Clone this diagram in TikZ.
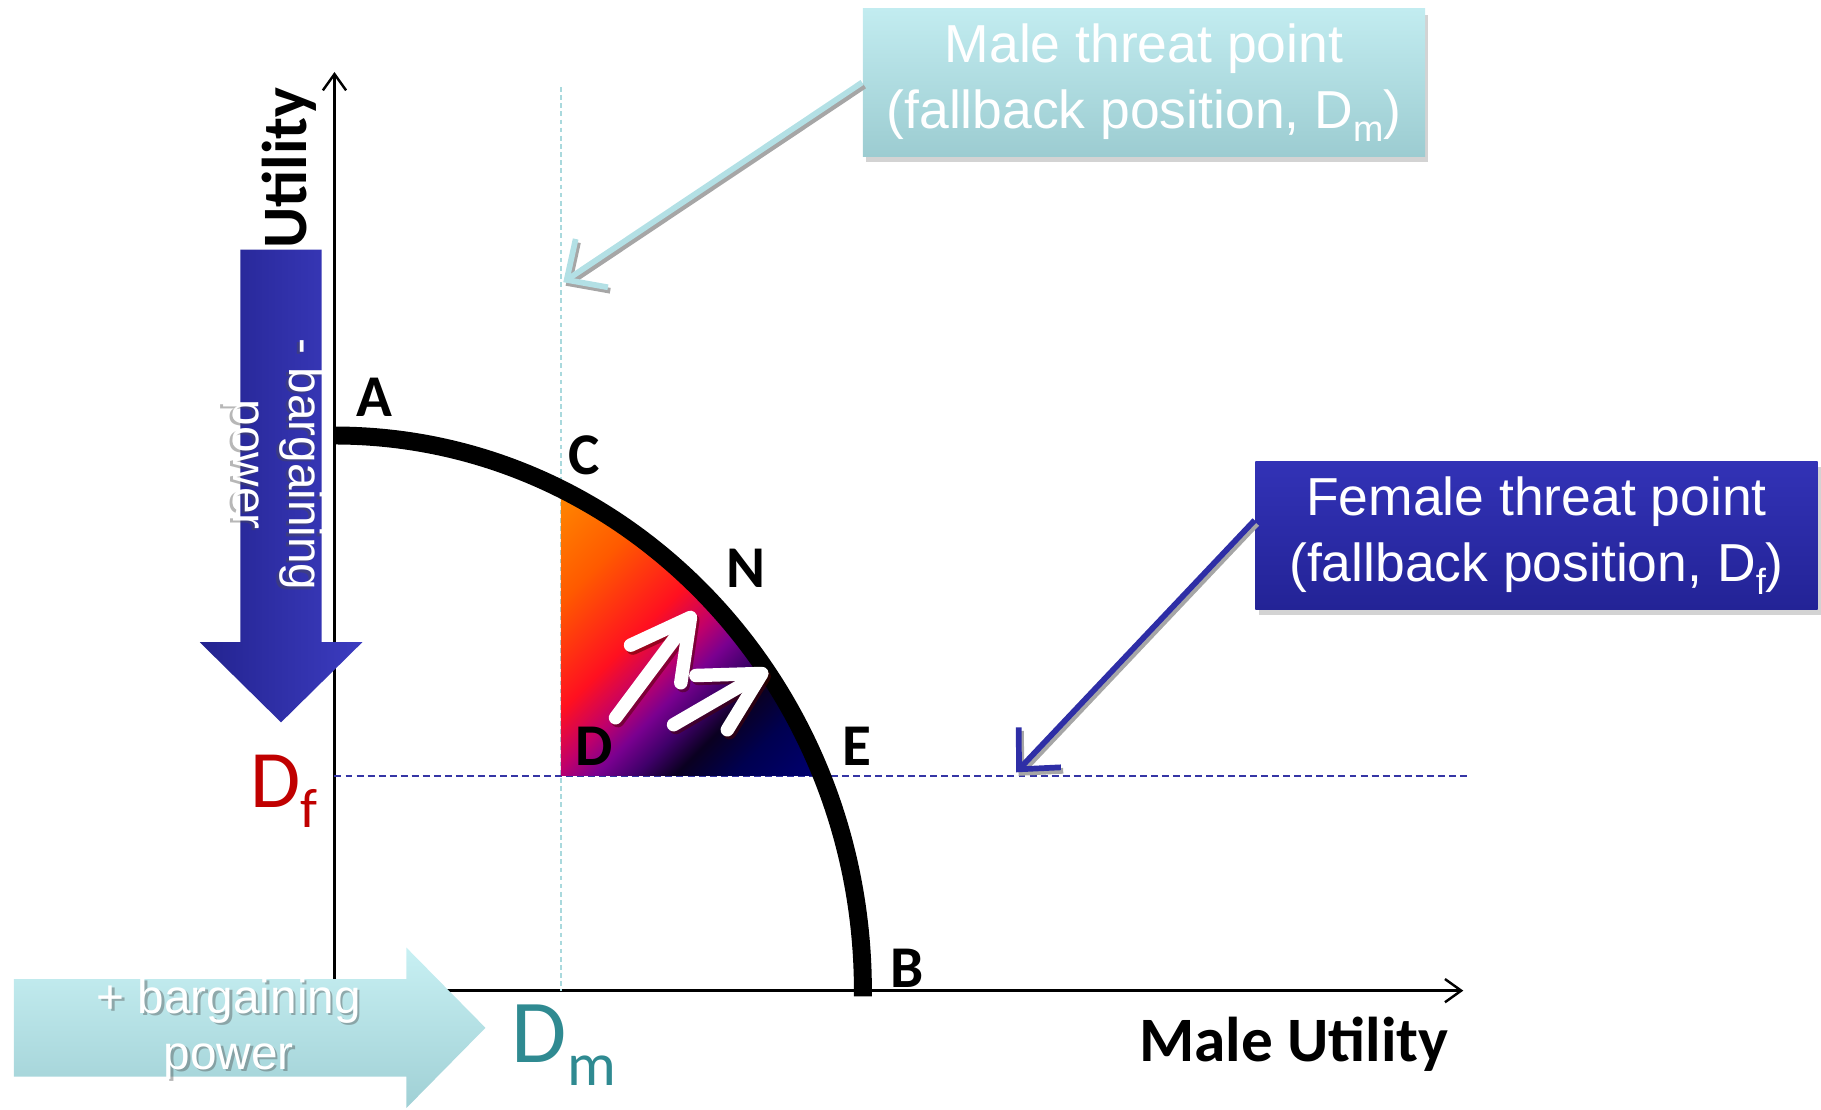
\documentclass[tikz,border=0pt]{standalone}
\usepackage{fontspec}
\usepackage{graphicx}
\usepackage{tikz}
\usetikzlibrary{arrows.meta,positioning,shadows}
\setmainfont{Liberation Sans}
\newfontfamily\calfont{Carlito}
\definecolor{threatcyan}{HTML}{B3E0E5}
\definecolor{cyantop}{HTML}{C2ECF0}
\definecolor{cyanbot}{HTML}{9CCCD1}
\definecolor{threatblue}{HTML}{2E2EA6}
\definecolor{bluetop}{HTML}{3232B6}
\definecolor{bluebot}{HTML}{232396}
\definecolor{dnleft}{HTML}{23238F}
\definecolor{dnright}{HTML}{3C3CC0}
\definecolor{rttop}{HTML}{C8F0F3}
\definecolor{rtbot}{HTML}{A0D0D5}
\definecolor{dfred}{HTML}{C00000}
\definecolor{dmteal}{HTML}{2F8A91}
\definecolor{guideblue}{HTML}{3535A5}
\definecolor{guidecyan}{HTML}{A9D9DD}
\definecolor{gorange}{HTML}{FF8A00}
\definecolor{gorangetwo}{HTML}{FF5A00}
\definecolor{gred}{HTML}{FF1020}
\definecolor{gmagenta}{HTML}{C0006A}
\definecolor{gpurple}{HTML}{7A0090}
\definecolor{gviolet}{HTML}{40006A}
\definecolor{gdark}{HTML}{0A0020}
\definecolor{gnavy}{HTML}{000050}
\definecolor{gnavytwo}{HTML}{000078}
\pgfdeclarehorizontalshading{gainshade}{100bp}{color(0bp)=(gorange); color(26bp)=(gorange); color(36bp)=(gorangetwo); color(45.5bp)=(gred); color(50.5bp)=(gmagenta); color(54bp)=(gpurple); color(57.5bp)=(gviolet); color(61bp)=(gdark); color(66bp)=(gnavy); color(75bp)=(gnavytwo); color(100bp)=(gnavytwo)}
\newcommand{\psub}[1]{\raisebox{-0.25em}{\scalebox{0.68}{#1}}}
\tikzset{
  utilaxis/.style={line width=0.6pt,-{Straight Barb[length=1.4mm,width=2mm]}},
  guidem/.style={guidecyan,line width=0.5pt,dash pattern=on 0.4mm off 0.3mm},
  guidef/.style={guideblue,line width=0.45pt,dash pattern=on 0.6mm off 0.35mm},
  frontier/.style={line width=4.4pt},
  ptlabel/.style={font=\calfont\bfseries\fontsize{14.5}{14.5}\selectfont,inner sep=0pt,anchor=base west},
  axislabel/.style={font=\calfont\bfseries\fontsize{15.5}{15.5}\selectfont,inner sep=0pt},
  dflabel/.style={font=\calfont\fontsize{20}{20}\selectfont,text=dfred,inner sep=0pt,anchor=base west},
  dmlabel/.style={font=\calfont\fontsize{22}{22}\selectfont,text=dmteal,inner sep=0pt,anchor=base west},
  threatbox/.style={minimum width=4.84cm,minimum height=1.27cm,align=center,text=white,inner sep=0pt,
    font=\fontsize{13.1}{16.2}\selectfont,drop shadow={shadow xshift=0.03cm,shadow yshift=-0.05cm,opacity=0.35}},
  threatline/.style={line width=1.4pt,-{Straight Barb[length=2.6mm,width=5mm]}},
  bargtext/.style={align=center,text=white,inner sep=0pt,font=\fontsize{11.7}{13.7}\selectfont},
  bargshadow/.style={bargtext,text=black!70,opacity=0.4},
  dnarrow/.style={left color=dnleft,right color=dnright},
  rtarrow/.style={top color=rttop,bottom color=rtbot},
  gainarrow/.style={white,line width=3.3pt,line cap=round,-{Straight Barb[length=5mm,width=5.4mm,round]}},
  gainshadow/.style={gainarrow,draw=black!70!red,opacity=0.5}
}
\begin{document}
\begin{tikzpicture}
  \useasboundingbox (0,0) rectangle (15.68,9.55);

  % axes
  \coordinate (O) at (2.88,1.02);
  \coordinate (ytop) at (2.88,8.93);
  \coordinate (xend) at (12.60,1.02);
  \draw[utilaxis] (O) -- (ytop);
  \draw[utilaxis] (O) -- (xend);

  % threat point guides
  \coordinate (dmtop) at (4.83,8.80);
  \coordinate (dmbot) at (4.83,1.02);
  \coordinate (dfleft) at (2.88,2.87);
  \coordinate (dfright) at (12.65,2.87);
  \draw[guidem] (dmtop) -- (dmbot);
  \draw[guidef] (dfleft) -- (dfright);

  % bargaining set above D
  \begin{scope}
    \clip (O) ellipse [x radius=4.55, y radius=4.78];
    \clip (4.83,2.87) rectangle (7.10,5.40);
    \begin{scope}[transform canvas={rotate around={-45:(5.955,4.11)}}]
      \shade[shading=gainshade] (4.205,2.36) rectangle (7.705,5.86);
    \end{scope}
  \end{scope}

  % frontier
  \draw[frontier] (2.88,5.80) arc[start angle=90,end angle=0,x radius=4.55,y radius=4.78] -- ++(0,-0.05);

  \node[ptlabel] (lblA) at (3.06,5.96) {A};
  \node[ptlabel] (lblC) at (4.89,5.46) {C};
  \node[ptlabel] (lblN) at (6.25,4.49) {N};
  \node[ptlabel] (lblD) at (4.95,2.96) {D};
  \node[ptlabel] (lblE) at (7.25,2.96) {E};
  \node[ptlabel] (lblB) at (7.66,1.05) {B};

  % moves towards the frontier
  \draw[gainshadow] (5.32,3.345) -- (6.00,4.255);
  \draw[gainshadow] (5.82,3.285) -- (6.63,3.755);
  \draw[gainarrow] (5.30,3.37) -- (5.98,4.28);
  \draw[gainarrow] (5.80,3.31) -- (6.61,3.78);

  % bargaining power arrows
  \shade[dnarrow] (2.07,7.40) -- (2.77,7.40) -- (2.77,4.02) -- (3.12,4.02) -- (2.42,3.33) -- (1.72,4.02) -- (2.07,4.02) -- cycle;
  \node[bargshadow,rotate=-90] (minusbpsh) at (2.335,5.53) {- bargaining\\power};
  \node[bargtext,rotate=-90] (minusbp) at (2.355,5.55) {- bargaining\\power};
  \shade[rtarrow] (0.12,0.28) -- (3.50,0.28) -- (3.50,0.01) -- (4.18,0.70) -- (3.50,1.39) -- (3.50,1.12) -- (0.12,1.12) -- cycle;
  \node[bargshadow] (plusbpsh) at (1.99,0.67) {+ bargaining\\power};
  \node[bargtext] (plusbp) at (1.97,0.69) {+ bargaining\\power};

  % axis titles
  \node[axislabel,rotate=90,anchor=base west] (ylab) at (2.64,7.40) {Utility};
  \node[axislabel,below left=0.22cm and 0.12cm of xend] (xlab) {Male Utility};
  \node[dflabel] (dflab) at (2.15,2.60) {D\psub{f}};
  \node[dmlabel] (dmlab) at (4.40,0.40) {D\psub{m}};

  % threat points
  \node[threatbox,top color=cyantop,bottom color=cyanbot] (malebox) at (9.85,8.84) {Male threat point\\(fallback position, D\psub{m})};
  \node[threatbox,top color=bluetop,bottom color=bluebot] (femalebox) at (13.23,4.94) {Female threat point\\(fallback position, D\psub{f})};
  \coordinate (mtip) at (4.85,7.12);
  \coordinate (ftip) at (8.75,2.90);
  \draw[threatline,black!35] ([shift={(0.02,-0.03)}]malebox.west) -- ([shift={(0.02,-0.03)}]mtip);
  \draw[threatline,threatcyan] (malebox.west) -- (mtip);
  \draw[threatline,black!35] ([shift={(0.02,0.10)}]femalebox.west) -- ([shift={(0.02,-0.03)}]ftip);
  \draw[threatline,threatblue] ([yshift=0.13cm]femalebox.west) -- (ftip);
\end{tikzpicture}
\end{document}
